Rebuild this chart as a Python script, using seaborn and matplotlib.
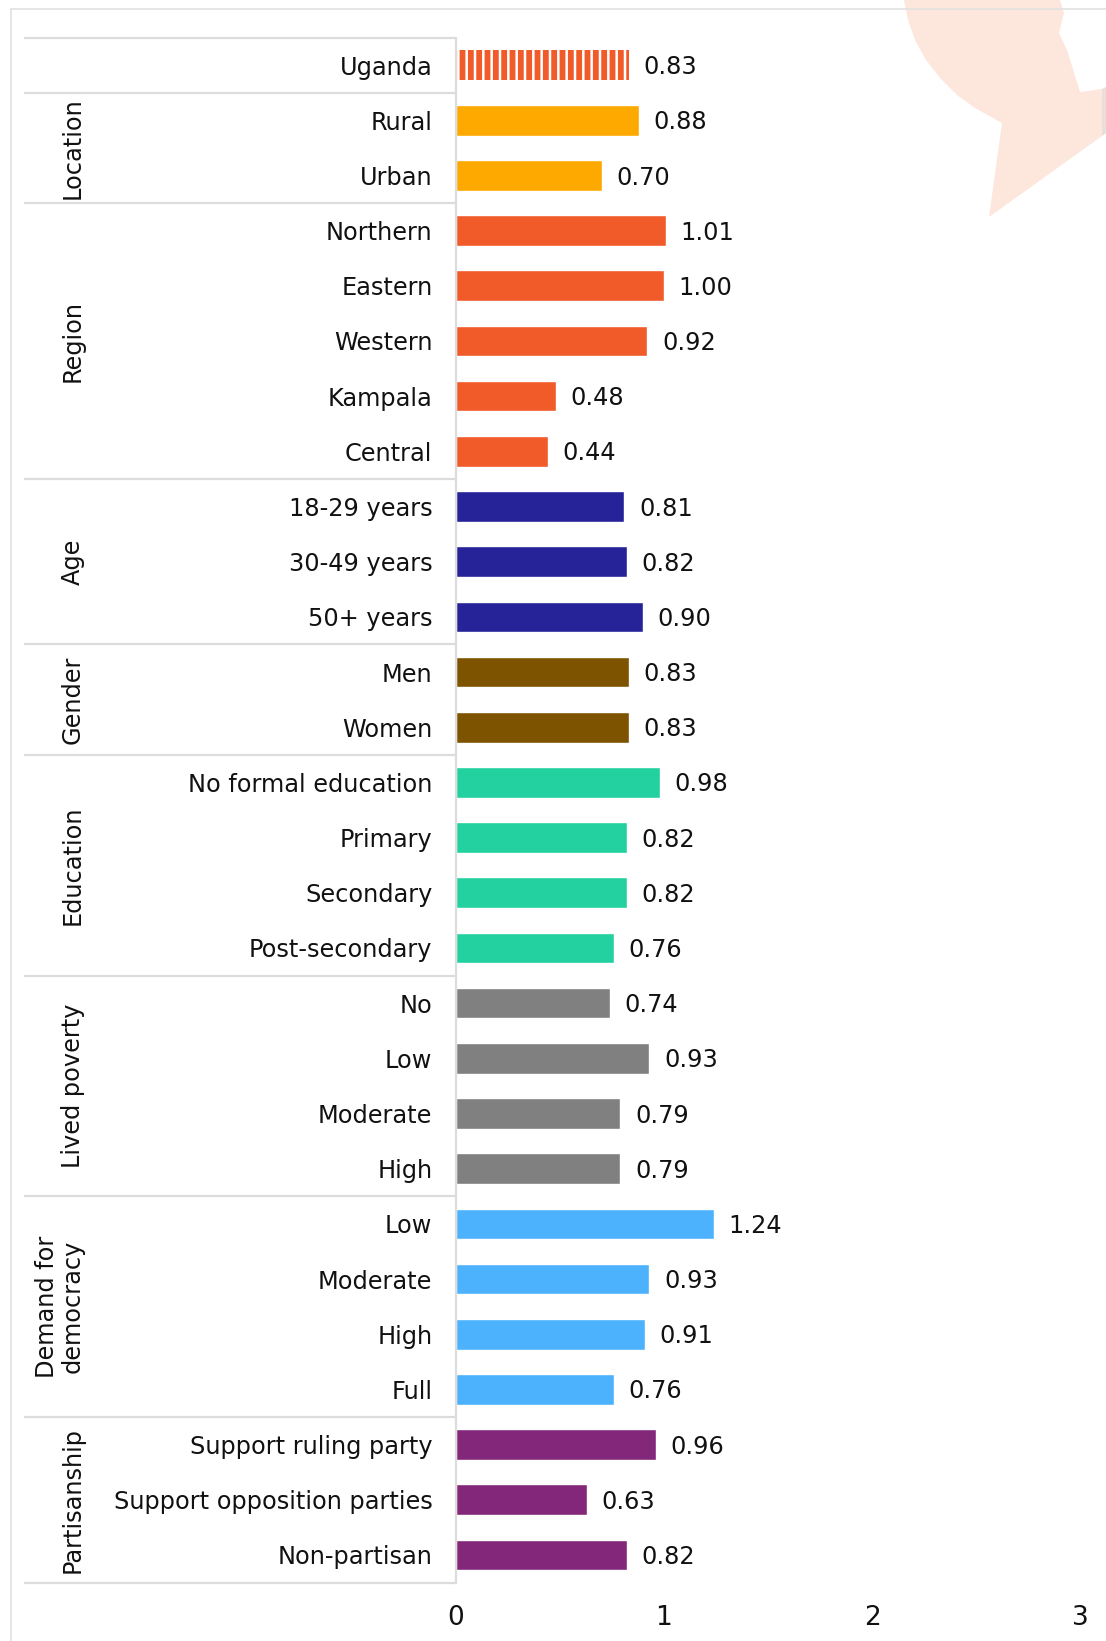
import matplotlib
matplotlib.use("Agg")
import matplotlib.pyplot as plt
import seaborn as sns
import pandas as pd
from matplotlib.patches import Polygon
from matplotlib.lines import Line2D

# ---------------- data ----------------
group_names = ["", "Location", "Region", "Age", "Gender", "Education",
               "Lived poverty", "Demand for\ndemocracy", "Partisanship"]
group_labels = [
    ["Uganda"],
    ["Rural", "Urban"],
    ["Northern", "Eastern", "Western", "Kampala", "Central"],
    ["18-29 years", "30-49 years", "50+ years"],
    ["Men", "Women"],
    ["No formal education", "Primary", "Secondary", "Post-secondary"],
    ["No", "Low", "Moderate", "High"],
    ["Low", "Moderate", "High", "Full"],
    ["Support ruling party", "Support opposition parties", "Non-partisan"],
]
group_values = [
    [0.83],
    [0.88, 0.70],
    [1.01, 1.00, 0.92, 0.48, 0.44],
    [0.81, 0.82, 0.90],
    [0.83, 0.83],
    [0.98, 0.82, 0.82, 0.76],
    [0.74, 0.93, 0.79, 0.79],
    [1.24, 0.93, 0.91, 0.76],
    [0.96, 0.63, 0.82],
]
group_colors = ["#F15A29", "#FDA900", "#F15A29", "#262399", "#7D5300",
                "#22D19F", "#808080", "#4DB2FE", "#83277A"]
x_ticks = [0, 1, 2, 3]

rows = []
for gi, (g, labs, vals) in enumerate(zip(group_names, group_labels, group_values)):
    for lab, v in zip(labs, vals):
        rows.append({"group": f"g{gi}", "label": lab, "key": f"{gi}|{lab}", "value": v})
df = pd.DataFrame(rows)
palette = {f"g{i}": c for i, c in enumerate(group_colors)}

# ---------------- figure ----------------
W, H = 1106, 1641
sns.set_theme(style="white")
plt.rcParams["font.family"] = ["DejaVu Sans"]
plt.rcParams["hatch.linewidth"] = 4.2
TXT = "#111111"
FS = 17.3

fig = plt.figure(figsize=(W / 100, H / 100), dpi=100)
fig.patch.set_facecolor("white")
ax_left, ax_right = 456 / W, 1080 / W
ax_top, ax_bot = 1 - 37.5 / H, 1 - 1582.5 / H
ax = fig.add_axes([ax_left, ax_bot, ax_right - ax_left, ax_top - ax_bot])
ax.patch.set_alpha(0)

sns.barplot(data=df, y="key", x="value", hue="group", palette=palette,
            dodge=False, width=0.555, legend=False, saturation=1,
            orient="h", ax=ax)

n = len(df)
# hatched overall bar
for p in ax.patches:
    yc = p.get_y() + p.get_height() / 2
    if abs(yc - 0) < 0.01:
        p.set_facecolor("white")
        p.set_edgecolor("#F15A29")
        p.set_hatch("||")
        p.set_linewidth(0)

for c in ax.containers:
    labs = ax.bar_label(c, fmt="%.2f", padding=10.5, fontsize=FS, color=TXT)
    for t in labs:
        x0, y0 = t.xyann
        t.xyann = (x0, y0 - 1.5)

ax.set_xlim(0, 3)
ax.set_ylim(n - 0.5, -0.5)
ax.set_xticks(x_ticks)
ax.set_xticklabels([str(t) for t in x_ticks], fontsize=19, color=TXT)
ax.set_yticks(range(n))
ax.set_yticklabels(df["label"], fontsize=FS, color=TXT)
ax.tick_params(axis="y", length=0, pad=17)
ax.tick_params(axis="x", length=0, pad=16)
ax.set_xlabel("")
ax.set_ylabel("")
for s in ["top", "right", "bottom"]:
    ax.spines[s].set_visible(False)
ax.spines["left"].set_color("#dcdcdc")
ax.spines["left"].set_linewidth(1.6)

# table separators and group labels
xmin_axes = (24 - 456) / (1080 - 456)
ytr = ax.get_yaxis_transform()
bounds = [-0.5]
start = 0
for gi, labs in enumerate(group_labels):
    end = start + len(labs)
    bounds.append(end - 0.5)
    if group_names[gi]:
        xg = (85 - 456) / (1080 - 456)
        ax.text(xg, (start + end - 1) / 2, group_names[gi], rotation=90,
                ha="right", va="center", fontsize=FS, color=TXT,
                transform=ytr, multialignment="center", linespacing=1.1)
    start = end
for b in bounds:
    ax.plot([xmin_axes, 0], [b, b], color="#dcdcdc", lw=1.6,
            transform=ytr, clip_on=False, solid_capstyle="butt")

# outer frame
fig.add_artist(Line2D([11 / W, 1], [1 - 9 / H, 1 - 9 / H], transform=fig.transFigure,
                      color="#e2e2e2", lw=1.2, zorder=5))
fig.add_artist(Line2D([11 / W, 11 / W], [0, 1 - 9 / H], transform=fig.transFigure,
                      color="#e2e2e2", lw=1.2, zorder=5))

# watermark decoration (top right)
wm = [(904, 0), (908, 20), (915, 40), (926, 60), (940, 78), (957, 95), (975, 108),
      (993, 118), (1002, 123), (989, 217), (1102, 136), (1102, 89), (1080, 92),
      (1067, 50), (1059, 33), (1064, 13), (1060, 0)]
fig.add_artist(Polygon([(x / W, 1 - y / H) for x, y in wm], closed=True,
                       transform=fig.transFigure, facecolor="#FDE6DC",
                       edgecolor="none", zorder=-1))
wm2 = [(1102, 89), (1106, 87), (1106, 133), (1102, 136)]
fig.add_artist(Polygon([(x / W, 1 - y / H) for x, y in wm2], closed=True,
                       transform=fig.transFigure, facecolor="#E9DEDA",
                       edgecolor="none", zorder=-1))

fig.savefig("out.png", dpi=100, facecolor="white")
